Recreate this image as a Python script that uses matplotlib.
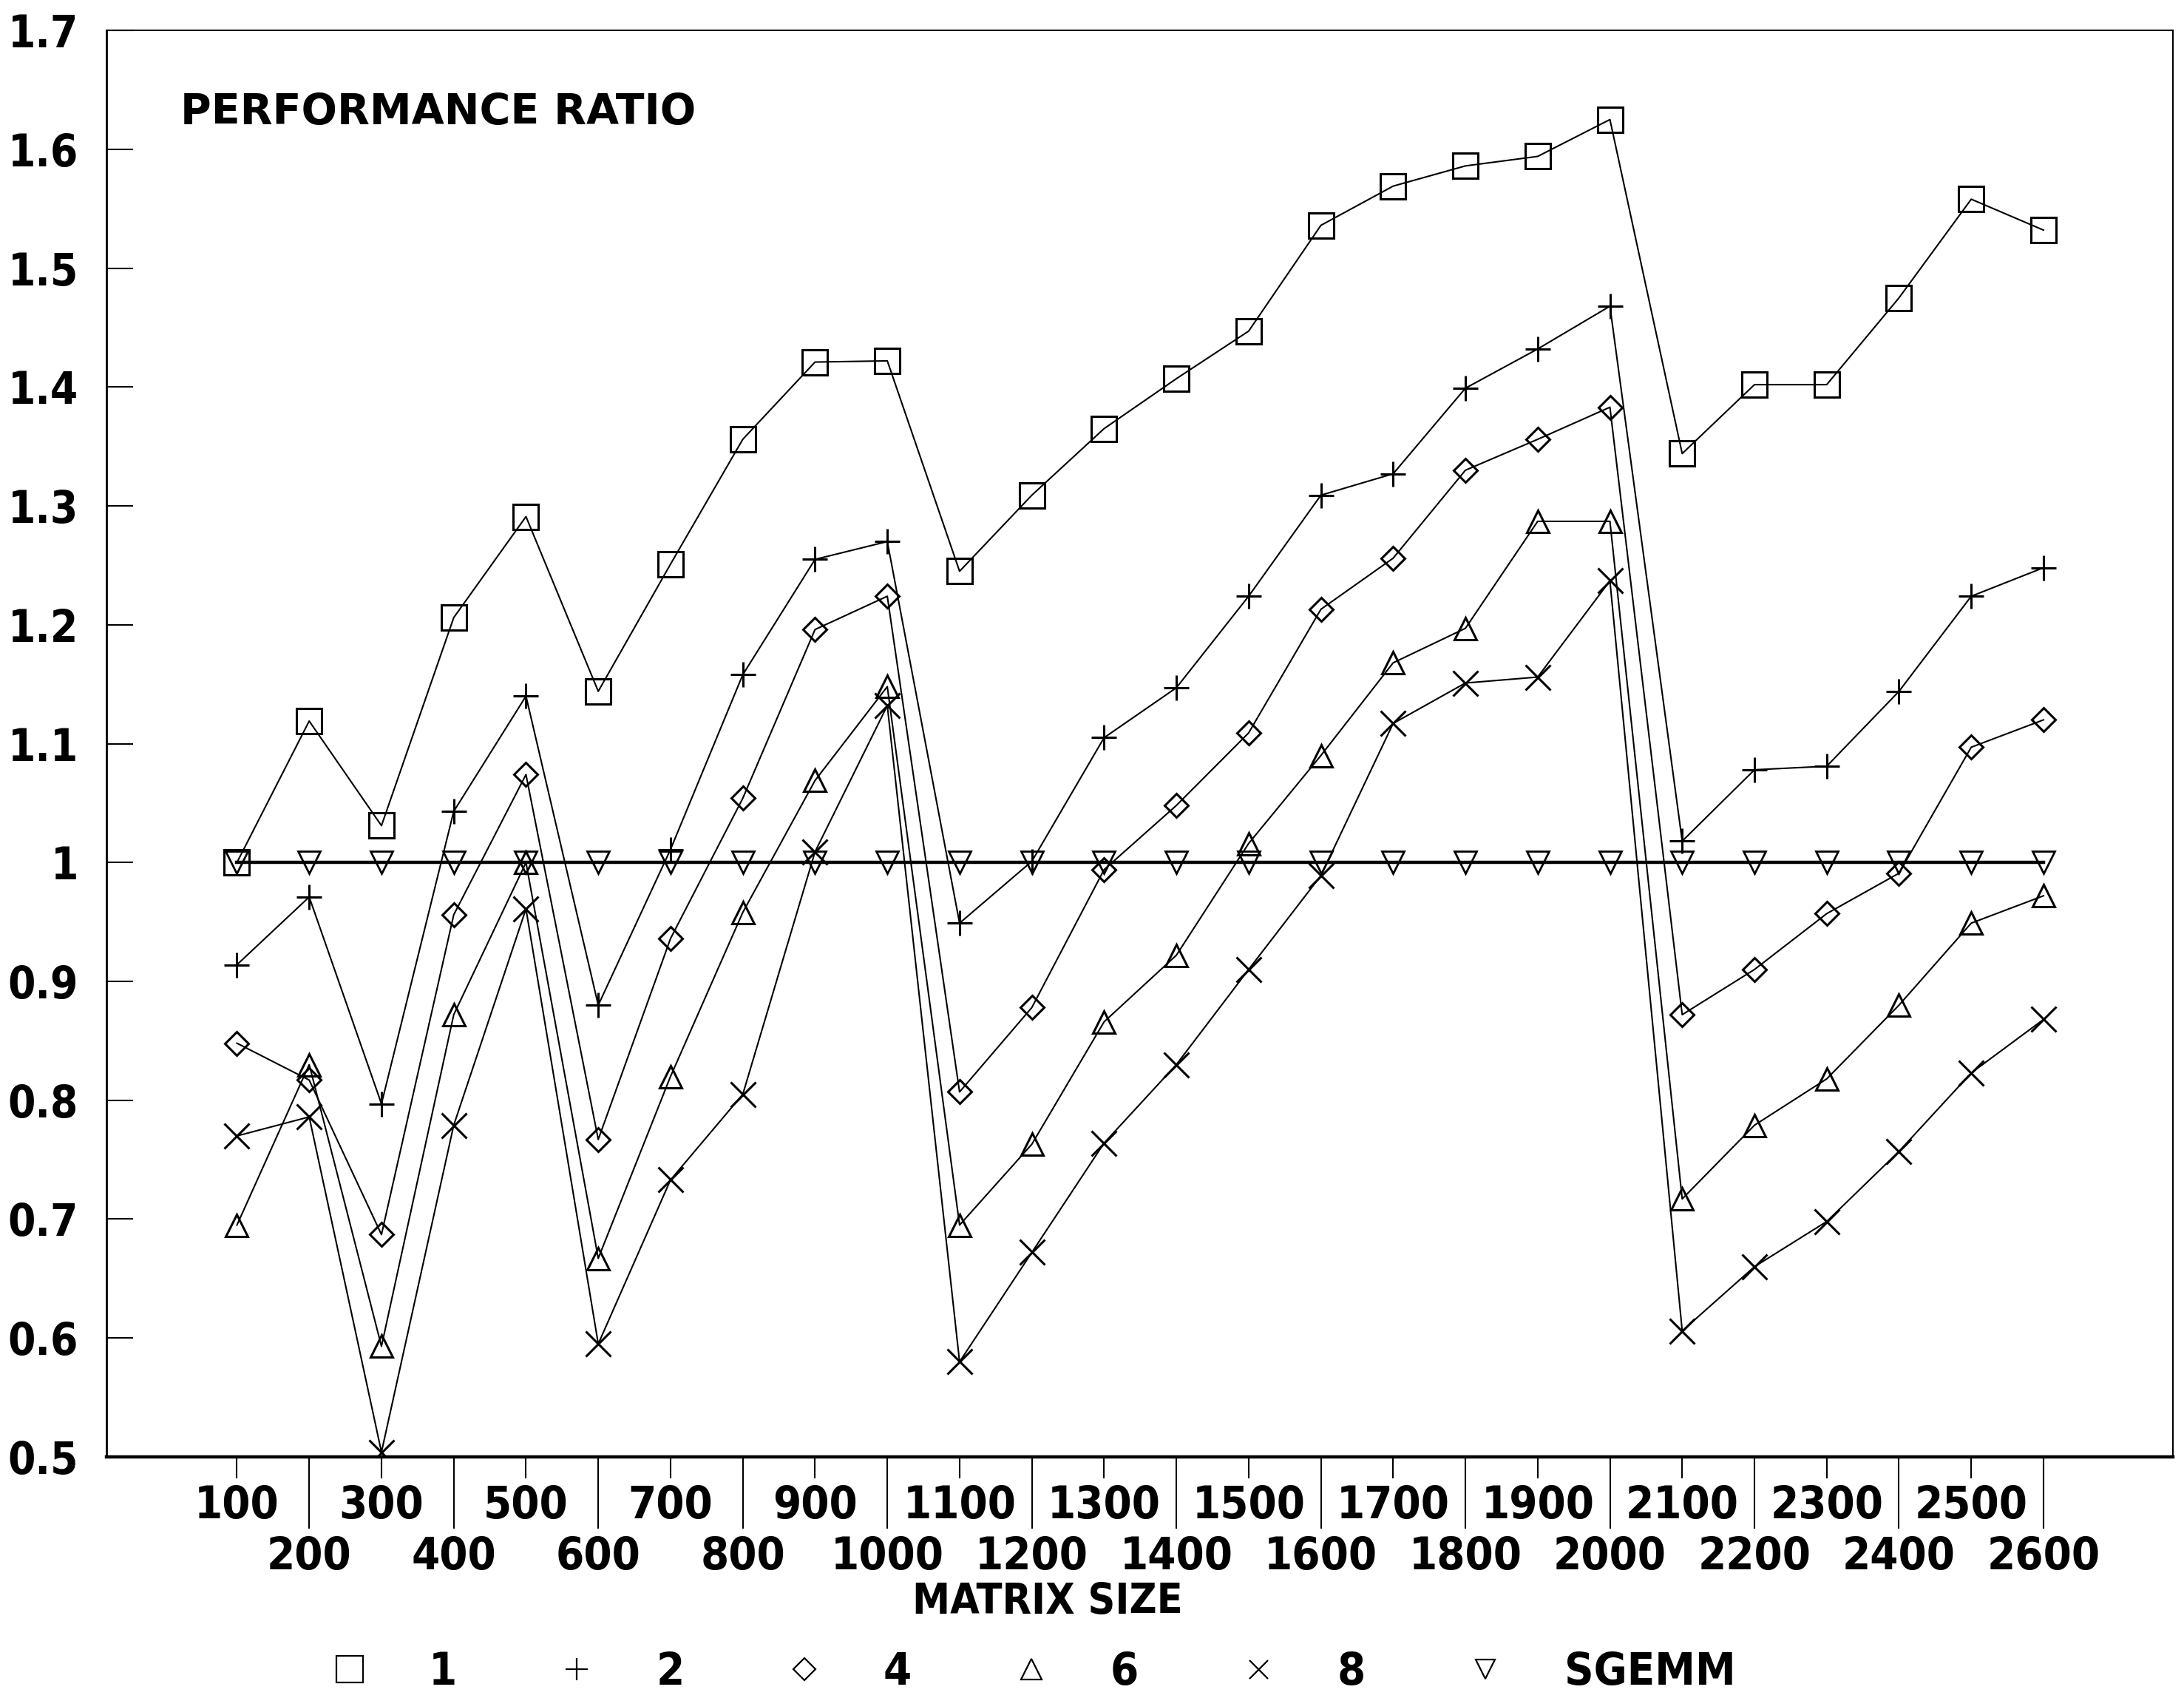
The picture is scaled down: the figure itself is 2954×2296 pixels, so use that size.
import matplotlib
matplotlib.use("Agg")
import matplotlib.pyplot as plt
from matplotlib.lines import Line2D

# matrix sizes (x categories)
sizes = [100, 200, 300, 400, 500, 600, 700, 800, 900, 1000, 1100, 1200, 1300,
         1400, 1500, 1600, 1700, 1800, 1900, 2000, 2100, 2200, 2300, 2400, 2500, 2600]

# performance ratio per number of processors
r1 = [1.000, 1.119, 1.031, 1.206, 1.291, 1.144, 1.251, 1.356, 1.421, 1.422, 1.245, 1.309, 1.365,
      1.407, 1.447, 1.536, 1.569, 1.586, 1.594, 1.625, 1.344, 1.402, 1.402, 1.475, 1.558, 1.532]
r2 = [0.914, 0.971, 0.797, 1.043, 1.140, 0.880, 1.011, 1.158, 1.255, 1.270, 0.949, 1.001, 1.105,
      1.147, 1.224, 1.309, 1.327, 1.399, 1.432, 1.468, 1.018, 1.078, 1.081, 1.144, 1.224, 1.248]
r4 = [0.848, 0.817, 0.687, 0.956, 1.074, 0.767, 0.936, 1.054, 1.196, 1.224, 0.807, 0.878, 0.994,
      1.048, 1.109, 1.213, 1.256, 1.330, 1.356, 1.383, 0.872, 0.910, 0.957, 0.991, 1.097, 1.120]
r6 = [0.695, 0.830, 0.593, 0.872, 1.000, 0.667, 0.820, 0.958, 1.069, 1.148, 0.695, 0.763, 0.866,
      0.922, 1.016, 1.090, 1.168, 1.197, 1.287, 1.287, 0.717, 0.779, 0.818, 0.880, 0.949, 0.972]
r8 = [0.770, 0.786, 0.504, 0.779, 0.961, 0.595, 0.733, 0.805, 1.009, 1.132, 0.580, 0.672, 0.764,
      0.830, 0.910, 0.989, 1.117, 1.151, 1.156, 1.237, 0.606, 0.660, 0.698, 0.757, 0.823, 0.868]
sgemm = [1.0, 1.0, 1.0, 1.0, 1.0, 1.0, 1.0, 1.0, 1.0, 1.0, 1.0, 1.0, 1.0,
         1.0, 1.0, 1.0, 1.0, 1.0, 1.0, 1.0, 1.0, 1.0, 1.0, 1.0, 1.0, 1.0]

series_names = ["1", "2", "4", "6", "8", "SGEMM"]

odd_ticks = [100, 300, 500, 700, 900, 1100, 1300, 1500, 1700, 1900, 2100, 2300, 2500]
even_ticks = [200, 400, 600, 800, 1000, 1200, 1400, 1600, 1800, 2000, 2200, 2400, 2600]
y_ticks = [0.5, 0.6, 0.7, 0.8, 0.9, 1.0, 1.1, 1.2, 1.3, 1.4, 1.5, 1.6, 1.7]
y_labels = ["0.5", "0.6", "0.7", "0.8", "0.9", "1", "1.1", "1.2", "1.3", "1.4", "1.5", "1.6", "1.7"]

FONT = dict(family="DejaVu Sans", weight="bold", stretch="condensed")

fig = plt.figure(figsize=(29.54, 22.96), dpi=100)
ax = fig.add_axes([0.0486, 0.1420, 0.9463, 0.8401])

ax.plot(sizes, sgemm, color="k", lw=3.2, marker="v", ms=22, mfc="none", mec="k", mew=2.0, zorder=2)
styles = [("s", 24, r1), ("+", 25, r2), ("D", 16, r4), ("^", 22, r6), ("x", 25, r8)]
for m, ms, vals in styles:
    ax.plot(sizes, vals, color="k", lw=1.5, marker=m, ms=ms, mfc="none", mec="k", mew=2.2, zorder=3)

ax.set_xlim(-81, 2779)
ax.set_ylim(0.5, 1.7)

# two-row x labels: odd hundreds on short ticks, even hundreds on long ticks
ax.set_xticks(odd_ticks, [str(v) for v in odd_ticks], fontsize=44, **FONT)
ax.set_xticks(even_ticks, [str(v) for v in even_ticks], minor=True, fontsize=44, **FONT)
ax.tick_params(axis="x", which="major", direction="out", length=21, width=1.5, pad=6)
ax.tick_params(axis="x", which="minor", direction="out", length=70, width=1.5, pad=6)

ax.set_yticks(y_ticks, y_labels, fontsize=43, **FONT)
ax.tick_params(axis="y", which="major", direction="in", length=26, width=1.5, pad=27)

for side, lw in [("left", 2.0), ("top", 1.5), ("right", 1.5), ("bottom", 3.2)]:
    ax.spines[side].set_linewidth(lw)

ax.text(0.036, 0.9425, "PERFORMANCE RATIO", transform=ax.transAxes, ha="left", va="center",
        fontsize=41, fontweight="bold", family="DejaVu Sans")

fig.text(0.4797, 0.0566, "MATRIX SIZE", ha="center", va="center", fontsize=41, **FONT)

# legend row under the axis label
markers = [("s", 26), ("+", 21), ("D", 15), ("^", 20), ("x", 18), ("v", 19)]
handles = [Line2D([], [], ls="none", marker=m, ms=s, mfc="none", mec="k", mew=1.6) for m, s in markers]
fig.legend(handles, series_names, loc="center left", bbox_to_anchor=(0.1416, 0.0150), ncol=6,
           frameon=False, borderpad=0, handlelength=0.8, handletextpad=1.35, columnspacing=2.25,
           prop=dict(size=44, **FONT))

fig.savefig("out.png", dpi=100, facecolor="white")
